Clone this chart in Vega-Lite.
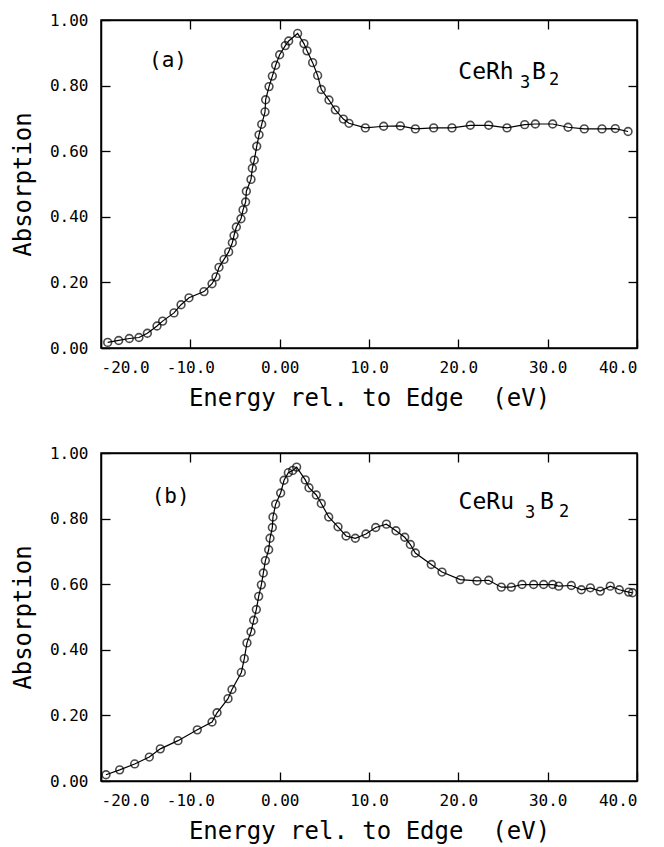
{
  "$schema": "https://vega.github.io/schema/vega-lite/v6.json",
  "background": "white",
  "padding": {"left": 10, "top": 11, "right": 5, "bottom": 2},
  "datasets": {
    "a": [
      {"E": -19.25, "A": 0.017}, {"E": -18.02, "A": 0.023}, {"E": -16.83, "A": 0.029}, {"E": -15.75, "A": 0.032},
      {"E": -14.81, "A": 0.045}, {"E": -13.73, "A": 0.067}, {"E": -13.10, "A": 0.082}, {"E": -11.83, "A": 0.107},
      {"E": -11.04, "A": 0.132}, {"E": -10.15, "A": 0.153}, {"E": -8.47, "A": 0.172}, {"E": -7.57, "A": 0.196},
      {"E": -7.13, "A": 0.217}, {"E": -6.79, "A": 0.246}, {"E": -6.23, "A": 0.270}, {"E": -5.71, "A": 0.293},
      {"E": -5.30, "A": 0.321}, {"E": -5.11, "A": 0.343}, {"E": -4.85, "A": 0.369}, {"E": -4.33, "A": 0.394},
      {"E": -4.10, "A": 0.421}, {"E": -3.81, "A": 0.445}, {"E": -3.73, "A": 0.478}, {"E": -3.21, "A": 0.514},
      {"E": -3.06, "A": 0.548}, {"E": -2.84, "A": 0.573}, {"E": -2.57, "A": 0.615}, {"E": -2.31, "A": 0.650},
      {"E": -2.01, "A": 0.682}, {"E": -1.64, "A": 0.720}, {"E": -1.57, "A": 0.757}, {"E": -1.19, "A": 0.797},
      {"E": -0.82, "A": 0.829}, {"E": -0.45, "A": 0.862}, {"E": 0.00, "A": 0.894}, {"E": 0.63, "A": 0.922},
      {"E": 1.01, "A": 0.936}, {"E": 2.01, "A": 0.959}, {"E": 2.72, "A": 0.928}, {"E": 3.06, "A": 0.906},
      {"E": 3.69, "A": 0.870}, {"E": 4.25, "A": 0.831}, {"E": 4.66, "A": 0.788}, {"E": 5.52, "A": 0.756},
      {"E": 6.23, "A": 0.726}, {"E": 7.13, "A": 0.698}, {"E": 7.76, "A": 0.685}, {"E": 9.59, "A": 0.671},
      {"E": 11.64, "A": 0.676}, {"E": 13.51, "A": 0.677}, {"E": 15.19, "A": 0.668}, {"E": 17.24, "A": 0.671},
      {"E": 19.29, "A": 0.671}, {"E": 21.34, "A": 0.679}, {"E": 23.40, "A": 0.679}, {"E": 25.45, "A": 0.671},
      {"E": 27.43, "A": 0.681}, {"E": 28.62, "A": 0.683}, {"E": 30.56, "A": 0.683}, {"E": 32.28, "A": 0.673},
      {"E": 34.10, "A": 0.668}, {"E": 36.08, "A": 0.668}, {"E": 37.57, "A": 0.669}, {"E": 39.00, "A": 0.660}
    ],
    "b": [
      {"E": -19.44, "A": 0.019}, {"E": -17.91, "A": 0.034}, {"E": -16.23, "A": 0.052}, {"E": -14.59, "A": 0.073},
      {"E": -13.36, "A": 0.098}, {"E": -11.38, "A": 0.123}, {"E": -9.22, "A": 0.156}, {"E": -7.57, "A": 0.180},
      {"E": -7.01, "A": 0.208}, {"E": -5.78, "A": 0.251}, {"E": -5.34, "A": 0.279}, {"E": -4.29, "A": 0.331},
      {"E": -3.96, "A": 0.373}, {"E": -3.66, "A": 0.421}, {"E": -3.21, "A": 0.455}, {"E": -2.91, "A": 0.490},
      {"E": -2.61, "A": 0.523}, {"E": -2.35, "A": 0.563}, {"E": -2.05, "A": 0.598}, {"E": -1.83, "A": 0.634},
      {"E": -1.60, "A": 0.672}, {"E": -1.23, "A": 0.705}, {"E": -1.08, "A": 0.740}, {"E": -0.82, "A": 0.773},
      {"E": -0.75, "A": 0.805}, {"E": -0.45, "A": 0.844}, {"E": 0.11, "A": 0.878}, {"E": 0.49, "A": 0.917},
      {"E": 0.97, "A": 0.940}, {"E": 1.46, "A": 0.947}, {"E": 1.90, "A": 0.957}, {"E": 2.87, "A": 0.918},
      {"E": 3.28, "A": 0.894}, {"E": 4.10, "A": 0.872}, {"E": 4.66, "A": 0.846}, {"E": 5.49, "A": 0.805},
      {"E": 6.53, "A": 0.775}, {"E": 7.43, "A": 0.747}, {"E": 8.47, "A": 0.740}, {"E": 9.66, "A": 0.753},
      {"E": 10.75, "A": 0.773}, {"E": 11.95, "A": 0.783}, {"E": 13.02, "A": 0.763}, {"E": 14.00, "A": 0.743},
      {"E": 14.63, "A": 0.721}, {"E": 15.19, "A": 0.695}, {"E": 16.97, "A": 0.660}, {"E": 18.17, "A": 0.637},
      {"E": 20.22, "A": 0.614}, {"E": 22.09, "A": 0.610}, {"E": 23.40, "A": 0.612}, {"E": 24.81, "A": 0.591},
      {"E": 25.93, "A": 0.591}, {"E": 27.13, "A": 0.599}, {"E": 28.43, "A": 0.599}, {"E": 29.55, "A": 0.599},
      {"E": 30.56, "A": 0.599}, {"E": 31.23, "A": 0.594}, {"E": 32.65, "A": 0.596}, {"E": 33.77, "A": 0.583},
      {"E": 34.78, "A": 0.589}, {"E": 35.89, "A": 0.579}, {"E": 37.01, "A": 0.594}, {"E": 38.02, "A": 0.583},
      {"E": 39.07, "A": 0.576}, {"E": 39.50, "A": 0.574}
    ]
  },
  "vconcat": [
    {
      "width": 536,
      "height": 328,
      "data": {"name": "a"},
      "layer": [
        {
          "mark": {"type": "line", "color": "black", "strokeWidth": 1.2},
          "encoding": {
            "x": {"field": "E", "type": "quantitative", "scale": {"domain": [-20, 40], "nice": false, "zero": false},
              "axis": {"orient": "bottom", "values": [-20, -10, 0, 10, 20, 30, 40], "labelPadding": 20, "titlePadding": 11, "labelExpr": "datum.value == 0 ? '0.00' : (datum.value < 0 ? '-' + format(-datum.value, '.1f') : format(datum.value, '.1f'))", "title": "Energy rel. to Edge \u00a0(eV)"}},
            "y": {"field": "A", "type": "quantitative", "scale": {"domain": [0, 1], "nice": false},
              "axis": {"orient": "left", "values": [0, 0.2, 0.4, 0.6, 0.8, 1.0], "labelPadding": 22, "titlePadding": 14, "format": ".2f", "title": "Absorption"}}
          }
        },
        {
          "mark": {"type": "point", "shape": "circle", "filled": false, "color": "black", "size": 60, "strokeWidth": 1.6},
          "encoding": {
            "x": {"field": "E", "type": "quantitative", "axis": {"orient": "top", "labels": false, "title": null, "values": [-10, 0, 10, 20, 30]}},
            "y": {"field": "A", "type": "quantitative", "axis": {"orient": "right", "labels": false, "title": null, "values": [0.2, 0.4, 0.6, 0.8]}}
          }
        },
        {
          "data": {"values": [{}]},
          "mark": {"type": "text", "text": "(a)", "fontSize": 21, "align": "center", "baseline": "alphabetic"},
          "encoding": {"x": {"datum": -12.5, "axis": null}, "y": {"datum": 0.857, "axis": null}}
        },
        {
          "data": {"values": [{}]},
          "mark": {"type": "text", "text": "CeRh", "fontSize": 23, "align": "left", "baseline": "alphabetic"},
          "encoding": {"x": {"datum": 20.0, "axis": null}, "y": {"datum": 0.82, "axis": null}}
        },
        {
          "data": {"values": [{}]},
          "mark": {"type": "text", "text": "3", "fontSize": 17, "align": "left", "baseline": "alphabetic"},
          "encoding": {"x": {"datum": 26.9, "axis": null}, "y": {"datum": 0.793, "axis": null}}
        },
        {
          "data": {"values": [{}]},
          "mark": {"type": "text", "text": "B", "fontSize": 23, "align": "left", "baseline": "alphabetic"},
          "encoding": {"x": {"datum": 28.25, "axis": null}, "y": {"datum": 0.82, "axis": null}}
        },
        {
          "data": {"values": [{}]},
          "mark": {"type": "text", "text": "2", "fontSize": 17, "align": "left", "baseline": "alphabetic"},
          "encoding": {"x": {"datum": 30.15, "axis": null}, "y": {"datum": 0.802, "axis": null}}
        }
      ],
      "resolve": {"axis": {"x": "independent", "y": "independent"}}
    },
    {
      "width": 536,
      "height": 328,
      "data": {"name": "b"},
      "layer": [
        {
          "mark": {"type": "line", "color": "black", "strokeWidth": 1.2},
          "encoding": {
            "x": {"field": "E", "type": "quantitative", "scale": {"domain": [-20, 40], "nice": false, "zero": false},
              "axis": {"orient": "bottom", "values": [-20, -10, 0, 10, 20, 30, 40], "labelPadding": 20, "titlePadding": 11, "labelExpr": "datum.value == 0 ? '0.00' : (datum.value < 0 ? '-' + format(-datum.value, '.1f') : format(datum.value, '.1f'))", "title": "Energy rel. to Edge \u00a0(eV)"}},
            "y": {"field": "A", "type": "quantitative", "scale": {"domain": [0, 1], "nice": false},
              "axis": {"orient": "left", "values": [0, 0.2, 0.4, 0.6, 0.8, 1.0], "labelPadding": 22, "titlePadding": 14, "format": ".2f", "title": "Absorption"}}
          }
        },
        {
          "mark": {"type": "point", "shape": "circle", "filled": false, "color": "black", "size": 60, "strokeWidth": 1.6},
          "encoding": {
            "x": {"field": "E", "type": "quantitative", "axis": {"orient": "top", "labels": false, "title": null, "values": [-10, 0, 10, 20, 30]}},
            "y": {"field": "A", "type": "quantitative", "axis": {"orient": "right", "labels": false, "title": null, "values": [0.2, 0.4, 0.6, 0.8]}}
          }
        },
        {
          "data": {"values": [{}]},
          "mark": {"type": "text", "text": "(b)", "fontSize": 21, "align": "center", "baseline": "alphabetic"},
          "encoding": {"x": {"datum": -12.2, "axis": null}, "y": {"datum": 0.848, "axis": null}}
        },
        {
          "data": {"values": [{}]},
          "mark": {"type": "text", "text": "CeRu", "fontSize": 23, "align": "left", "baseline": "alphabetic"},
          "encoding": {"x": {"datum": 20.03, "axis": null}, "y": {"datum": 0.83, "axis": null}}
        },
        {
          "data": {"values": [{}]},
          "mark": {"type": "text", "text": "3", "fontSize": 17, "align": "left", "baseline": "alphabetic"},
          "encoding": {"x": {"datum": 27.46, "axis": null}, "y": {"datum": 0.803, "axis": null}}
        },
        {
          "data": {"values": [{}]},
          "mark": {"type": "text", "text": "B", "fontSize": 23, "align": "left", "baseline": "alphabetic"},
          "encoding": {"x": {"datum": 29.14, "axis": null}, "y": {"datum": 0.83, "axis": null}}
        },
        {
          "data": {"values": [{}]},
          "mark": {"type": "text", "text": "2", "fontSize": 17, "align": "left", "baseline": "alphabetic"},
          "encoding": {"x": {"datum": 31.27, "axis": null}, "y": {"datum": 0.806, "axis": null}}
        }
      ],
      "resolve": {"axis": {"x": "independent", "y": "independent"}}
    }
  ],
  "spacing": 33,
  "config": {
    "font": "DejaVu Sans Mono",
    "view": {"stroke": "black", "strokeWidth": 1.5},
    "text": {"font": "DejaVu Sans Mono", "color": "black"},
    "axis": {
      "grid": false,
      "domainColor": "black",
      "domainWidth": 1.5,
      "tickColor": "black",
      "tickWidth": 1.3,
      "tickSize": -9,
      "labelColor": "black",
      "titleColor": "black",
      "labelFont": "DejaVu Sans Mono",
      "titleFont": "DejaVu Sans Mono",
      "titleFontWeight": "normal",
      "labelFontSize": 16,
      "titleFontSize": 24
    }
  }
}
